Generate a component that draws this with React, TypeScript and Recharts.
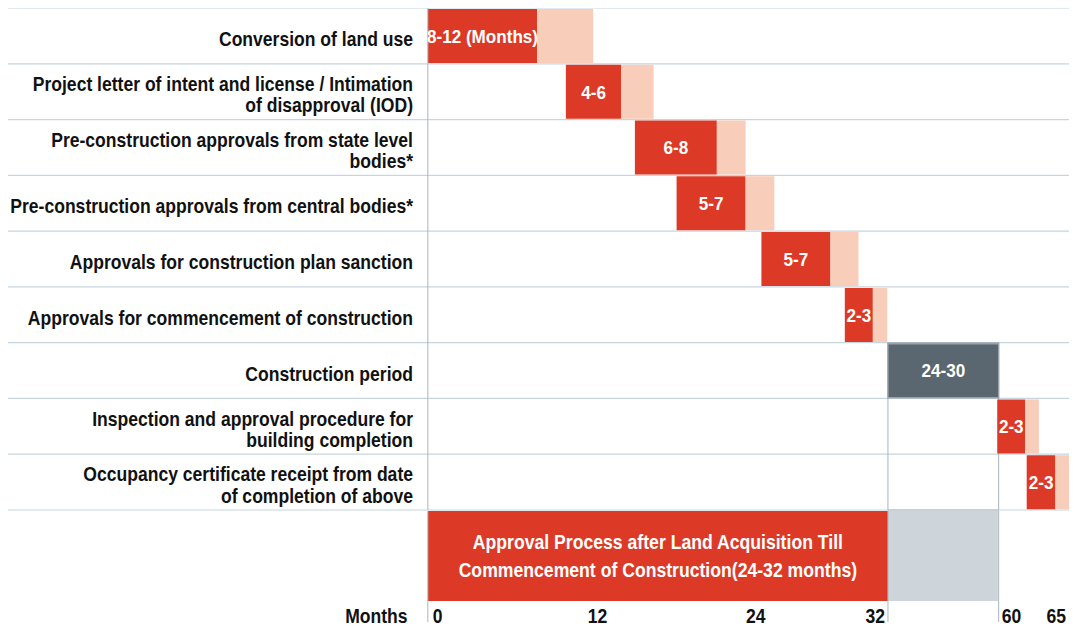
import React from "react";
import {
  BarChart,
  Bar,
  XAxis,
  YAxis,
  CartesianGrid,
  ReferenceLine,
  ReferenceArea,
  LabelList,
  Cell,
} from "recharts";

// ── Data ─────────────────────────────────────────────────────────
// x values are in chart units (the construction
// stretch is drawn compressed, so the axis is not a true month scale)

const TASKS = [
  "Conversion of land use",
  "Project letter of intent and license / Intimation\nof disapproval (IOD)",
  "Pre-construction approvals from state level\nbodies*",
  "Pre-construction approvals from central bodies*",
  "Approvals for construction plan sanction",
  "Approvals for commencement of construction",
  "Construction period",
  "Inspection and approval procedure for\nbuilding completion",
  "Occupancy certificate receipt from date\nof completion of above",
];
const RANGE_LABELS = ["8-12 (Months)", "4-6", "6-8", "5-7", "5-7", "2-3", "24-30", "2-3", "2-3"];
const START = [0, 9.6, 14.4, 17.3, 23.2, 29.0, 32.0, 39.6, 41.65];
const MIN_SPAN = [7.6, 3.85, 5.7, 4.8, 4.8, 1.95, 7.7, 1.95, 2.0];
const EXTRA_SPAN = [3.9, 2.25, 2.0, 2.0, 1.95, 1.0, 0, 0.95, 0.95];

const PHASE_TITLE = [
  "Approval Process after Land Acquisition Till",
  "Commencement of Construction(24-32 months)",
];
const PHASE_APPROVAL = [32];
const PHASE_CONSTRUCTION = [7.65];

const AXIS_TITLE = "Months";
const TICK_AT = [0, 11.8, 22.8, 32, 40.6, 43.7];
const TICK_TEXT = ["0", "12", "24", "32", "60", "65"];
const DIVIDERS = [0, 32, 39.7];

// left part of the domain holds the row-label column
const X_DOMAIN: [number, number] = [-29.2, 45.1];

// ── Styles ───────────────────────────────────────────────────────

const RED = "#dc3a26";
const PEACH = "#f8cdb9";
const SLATE = "#5b6770";
const MIST = "#cdd5db";
const GRID = "#c8d5de";
const RULE = "#a9b5bd";
const INK = "#111111";

const W = 1187;
const SQUEEZE = 0.9; // source text is horizontally condensed
const LABEL_X = 450;
const FONT = "'Liberation Sans', Arial, sans-serif";

const CONSTRUCTION_ROW = TASKS.indexOf("Construction period");

const rows = TASKS.map((task, i) => ({
  task,
  range: RANGE_LABELS[i],
  start: START[i],
  min: MIN_SPAN[i],
  extra: EXTRA_SPAN[i],
}));

const phaseRows = PHASE_APPROVAL.map((v, i) => ({
  phase: "phase",
  approval: v,
  construction: PHASE_CONSTRUCTION[i],
}));

const axisTicks = Array.from(new Set([...TICK_AT, ...DIVIDERS])).sort((a, b) => a - b);

// ── Pieces ───────────────────────────────────────────────────────

function rowEdges({ offset }: any) {
  const top = offset?.top ?? 1;
  const h = offset?.height ?? 502;
  return Array.from({ length: TASKS.length + 1 }, (_, i) => top + (i * h) / TASKS.length);
}

function TaskTick({ y, payload }: any) {
  const lines = String(payload.value).split("\n");
  return (
    <text textAnchor="end" fill={INK} fontSize={19.5} fontWeight={700}>
      {lines.map((line, i) => (
        <tspan key={i} x={LABEL_X} y={y + 10 + (i - (lines.length - 1) / 2) * 21.5}>
          {line}
        </tspan>
      ))}
    </text>
  );
}

function MonthTick({ x, y, payload }: any) {
  const v = payload.value;
  const idx = TICK_AT.indexOf(v);
  const isDivider = DIVIDERS.includes(v);
  let anchor: "start" | "middle" | "end" = "middle";
  let dx = 0;
  if (isDivider && idx === 0) {
    anchor = "start";
    dx = 5.6;
  } else if (isDivider) {
    anchor = "end";
    dx = -3.3;
  }
  return (
    <g>
      {isDivider && <line x1={x} x2={x} y1={y} y2={y + 21} stroke={RULE} strokeWidth={1.1} />}
      {idx >= 0 && (
        <text x={x + dx} y={y + 22} textAnchor={anchor} fill={INK} fontSize={19.5} fontWeight={700}>
          {TICK_TEXT[idx]}
        </text>
      )}
    </g>
  );
}

function MonthsLabel(props: any) {
  const vb = props.viewBox ?? { x: 0, y: 0 };
  return (
    <text x={vb.x + 444} y={vb.y + 22} textAnchor="end" fill={INK} fontSize={19.5} fontWeight={700}>
      {AXIS_TITLE}
    </text>
  );
}

function PhaseTitle(props: any) {
  const vb = props.viewBox ?? props;
  const cx = vb.x + vb.width / 2;
  const cy = vb.y + vb.height / 2;
  return (
    <text textAnchor="middle" fill="#ffffff" fontSize={19.6} fontWeight={700}>
      <tspan x={cx} y={cy - 7}>{PHASE_TITLE[0]}</tspan>
      <tspan x={cx} y={cy + 21}>{PHASE_TITLE[1]}</tspan>
    </text>
  );
}

// ── Charts ───────────────────────────────────────────────────────

function TimelineChart() {
  return (
    <BarChart
      layout="vertical"
      width={W}
      height={504}
      data={rows}
      margin={{ top: 1, right: 0, bottom: 1, left: -1 }}
      barCategoryGap={1}
    >
      <CartesianGrid vertical={false} stroke={GRID} strokeWidth={1.2} horizontalCoordinatesGenerator={rowEdges} />
      <XAxis type="number" domain={X_DOMAIN} allowDataOverflow hide />
      <YAxis
        type="category"
        dataKey="task"
        width={1}
        interval={0}
        axisLine={false}
        tickLine={false}
        tick={<TaskTick />}
      />
      <ReferenceArea
        x1={START[CONSTRUCTION_ROW]}
        x2={START[CONSTRUCTION_ROW] + MIN_SPAN[CONSTRUCTION_ROW]}
        y1={TASKS[CONSTRUCTION_ROW]}
        y2={TASKS[TASKS.length - 1]}
        fill="none"
        stroke={RULE}
        strokeWidth={1.1}
        fillOpacity={0}
      />
      <ReferenceLine x={0} stroke={RULE} strokeWidth={1.1} />
      <Bar dataKey="start" stackId="t" fill="transparent" isAnimationActive={false} />
      <Bar dataKey="min" stackId="t" fill={RED} isAnimationActive={false}>
        {rows.map((r, i) => (
          <Cell
            key={`min-${i}`}
            fill={i === CONSTRUCTION_ROW ? SLATE : RED}
            stroke={i === CONSTRUCTION_ROW ? "#98a2a9" : "none"}
            strokeWidth={1.5}
          />
        ))}
        <LabelList dataKey="range" position="center" fill="#ffffff" fontSize={19} fontWeight={700} />
      </Bar>
      <Bar dataKey="extra" stackId="t" fill={PEACH} isAnimationActive={false} />
    </BarChart>
  );
}

function PhaseChart() {
  return (
    <BarChart
      layout="vertical"
      width={W}
      height={115}
      data={phaseRows}
      margin={{ top: 0, right: 0, bottom: 0, left: 0 }}
      barCategoryGap={0}
    >
      <XAxis
        type="number"
        domain={X_DOMAIN}
        allowDataOverflow
        ticks={axisTicks}
        interval={0}
        height={25}
        axisLine={false}
        tickLine={false}
        tickSize={0}
        tickMargin={0}
        tick={<MonthTick />}
        label={<MonthsLabel />}
      />
      <YAxis type="category" dataKey="phase" hide />
      <Bar dataKey="approval" stackId="p" fill={RED} isAnimationActive={false}>
        <LabelList content={PhaseTitle} />
      </Bar>
      <Bar dataKey="construction" stackId="p" fill={MIST} isAnimationActive={false} />
      {DIVIDERS.map((d) => (
        <ReferenceLine key={d} x={d} stroke={RULE} strokeWidth={1.1} />
      ))}
    </BarChart>
  );
}

export default function App() {
  return (
    <div style={{ width: 1069, height: 619, marginTop: -1, overflow: "hidden", fontFamily: FONT }}>
      <div style={{ width: W, transform: `scaleX(${SQUEEZE})`, transformOrigin: "0 0" }}>
        <TimelineChart />
        <PhaseChart />
      </div>
    </div>
  );
}
